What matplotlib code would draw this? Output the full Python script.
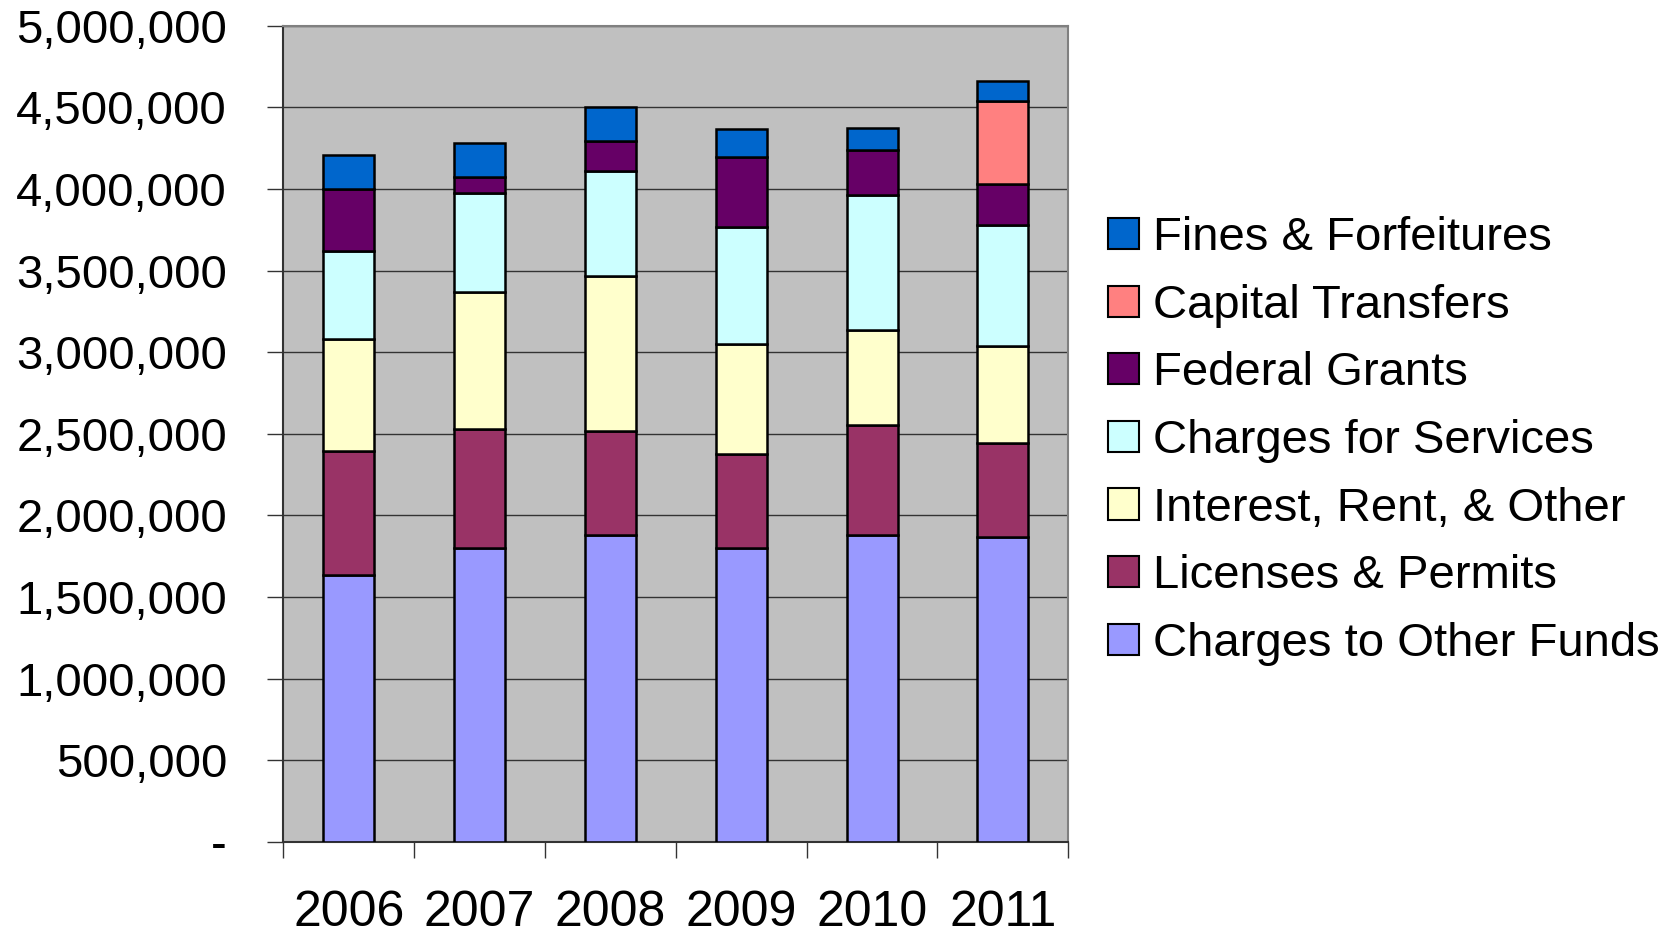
import matplotlib
matplotlib.use("Agg")
import matplotlib.pyplot as plt
import numpy as np
from matplotlib.patches import Patch

plt.rcParams['font.family'] = ['Liberation Sans', 'DejaVu Sans']

years = ['2006', '2007', '2008', '2009', '2010', '2011']
charges_other_funds = [1635000, 1803000, 1882000, 1800000, 1882000, 1868000]
licenses_permits = [758000, 729000, 633000, 579000, 674000, 578000]
interest_rent_other = [690000, 839000, 952000, 674000, 582000, 594000]
charges_services = [535000, 607000, 643000, 714000, 825000, 742000]
federal_grants = [384000, 96000, 184000, 429000, 274000, 249000]
capital_transfers = [0, 0, 0, 0, 0, 508000]
fines_forfeitures = [209000, 208000, 208000, 170000, 139000, 125000]

series_names = ['Charges to Other Funds', 'Licenses & Permits', 'Interest, Rent, & Other',
                'Charges for Services', 'Federal Grants', 'Capital Transfers',
                'Fines & Forfeitures']
series_values = [charges_other_funds, licenses_permits, interest_rent_other,
                 charges_services, federal_grants, capital_transfers, fines_forfeitures]
series_colors = ['#9999FF', '#993366', '#FFFFCC', '#CCFFFF', '#660066', '#FF8080', '#0066CC']

y_ticks = [0, 500000, 1000000, 1500000, 2000000, 2500000, 3000000, 3500000,
           4000000, 4500000, 5000000]
y_labels = ['-', '500,000', '1,000,000', '1,500,000', '2,000,000', '2,500,000',
            '3,000,000', '3,500,000', '4,000,000', '4,500,000', '5,000,000']

fig = plt.figure(figsize=(16.69, 9.38), dpi=100)
ax = fig.add_axes([283.3 / 1669, (938 - 842) / 938, 785 / 1669, (842 - 25.7) / 938])
ax.set_facecolor('#C0C0C0')

x = np.arange(len(years))
bottom = np.zeros(len(years))
handles = []
for name, vals, col in zip(series_names, series_values, series_colors):
    v = np.array(vals, dtype=float)
    mask = v > 0
    ax.bar(x[mask], v[mask], width=0.39, bottom=bottom[mask], color=col,
           edgecolor='black', linewidth=1.8, zorder=3)
    bottom += v
    handles.append(Patch(facecolor=col, edgecolor='black', linewidth=1.5, label=name))

ax.set_xlim(-0.5, len(years) - 0.5)
ax.set_ylim(0, 5000000)
ax.set_yticks(y_ticks)
ax.set_yticklabels(y_labels)
ax.yaxis.grid(True, color='#333333', linewidth=1.0, zorder=0)
ax.set_axisbelow(True)

ax.set_xticks(np.arange(-0.5, len(years), 1.0))
ax.set_xticklabels([''] * (len(years) + 1))
ax.set_xticks(x, minor=True)
ax.set_xticklabels(years, minor=True)
ax.tick_params(axis='x', which='major', direction='out', length=11.5, width=1.0, color='#333333')
ax.tick_params(axis='x', which='minor', length=0, pad=34.5, labelsize=36)
ax.tick_params(axis='y', direction='out', length=11.5, width=1.0, color='#333333',
               pad=29, labelsize=34)

for s in ['left', 'bottom']:
    ax.spines[s].set_color('#333333')
    ax.spines[s].set_linewidth(1.5)
for s in ['top', 'right']:
    ax.spines[s].set_color('#808080')
    ax.spines[s].set_linewidth(1.5)

leg = fig.legend(handles=handles[::-1], loc='center left',
                 bbox_to_anchor=(1108 / 1669, (938 - 441) / 938),
                 frameon=False, fontsize=34, borderpad=0, borderaxespad=0,
                 handlelength=0.65, handleheight=0.64, handletextpad=0.3,
                 labelspacing=0.50)

fig.savefig('out.png', dpi=100)
